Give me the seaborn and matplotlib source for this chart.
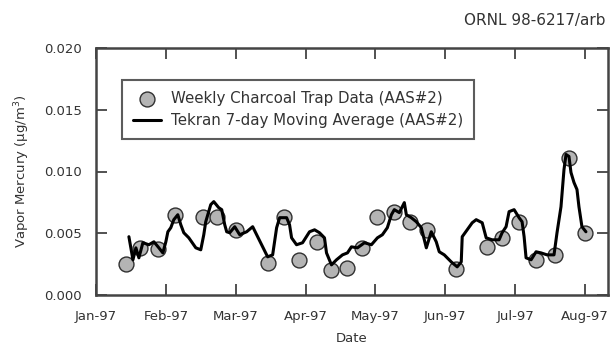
import numpy as np
import pandas as pd
import matplotlib
matplotlib.use("Agg")
import matplotlib.pyplot as plt
import seaborn as sns

# ---- data (x in months since 1 Jan 1997) ----
month_labels = ["Jan-97", "Feb-97", "Mar-97", "Apr-97", "May-97", "Jun-97", "Jul-97", "Aug-97"]

trap_month = [0.43, 0.63, 0.89, 1.13, 1.53, 1.73, 2.01, 2.46, 2.69, 2.91, 3.17, 3.37,
              3.59, 3.81, 4.03, 4.27, 4.49, 4.74, 5.16, 5.60, 5.81, 6.06, 6.30, 6.57,
              6.77, 7.00]
trap_value = [0.0025, 0.0038, 0.0037, 0.0065, 0.0063, 0.0063, 0.0053, 0.0026, 0.0063,
              0.0028, 0.0043, 0.0020, 0.0022, 0.0038, 0.0063, 0.0067, 0.0059, 0.0053,
              0.0021, 0.0039, 0.0046, 0.0059, 0.0028, 0.0032, 0.0111, 0.0050]

ma_month = [0.471, 0.529, 0.571, 0.614, 0.671, 0.757, 0.829, 0.900, 0.957, 1.000,
            1.029, 1.071, 1.114, 1.171, 1.214, 1.257, 1.329, 1.429, 1.500, 1.543,
            1.571, 1.643, 1.686, 1.757, 1.800, 1.843, 1.871, 1.914, 1.986, 2.057,
            2.157, 2.243, 2.314, 2.386, 2.457, 2.529, 2.586, 2.629, 2.729, 2.771,
            2.800, 2.871, 2.957, 3.057, 3.129, 3.200, 3.271, 3.300, 3.371, 3.443,
            3.529, 3.600, 3.657, 3.743, 3.843, 3.943, 4.029, 4.100, 4.171, 4.229,
            4.271, 4.343, 4.414, 4.443, 4.514, 4.586, 4.657, 4.729, 4.800, 4.871,
            4.914, 4.986, 5.086, 5.171, 5.229, 5.243, 5.314, 5.386, 5.443, 5.529,
            5.586, 5.671, 5.771, 5.814, 5.871, 5.914, 5.986, 6.057, 6.100, 6.129,
            6.157, 6.229, 6.300, 6.371, 6.457, 6.557, 6.600, 6.657, 6.700, 6.729,
            6.771, 6.800, 6.843, 6.886, 6.914, 6.957, 7.014]
ma_value = [0.00472, 0.00285, 0.00382, 0.00301, 0.00423, 0.00407, 0.00431, 0.00382, 0.00341, 0.00431,
            0.00512, 0.00545, 0.00610, 0.00650, 0.00569, 0.00504, 0.00463, 0.00382, 0.00366, 0.00488,
            0.00593, 0.00732, 0.00756, 0.00707, 0.00691, 0.00569, 0.00512, 0.00504, 0.00553, 0.00488,
            0.00512, 0.00553, 0.00472, 0.00390, 0.00309, 0.00325, 0.00545, 0.00626, 0.00626, 0.00569,
            0.00463, 0.00407, 0.00423, 0.00512, 0.00528, 0.00504, 0.00463, 0.00341, 0.00244, 0.00285,
            0.00325, 0.00341, 0.00390, 0.00382, 0.00423, 0.00407, 0.00463, 0.00488, 0.00545, 0.00650,
            0.00691, 0.00667, 0.00748, 0.00650, 0.00626, 0.00593, 0.00545, 0.00382, 0.00512, 0.00431,
            0.00350, 0.00325, 0.00268, 0.00228, 0.00268, 0.00472, 0.00528, 0.00585, 0.00610, 0.00585,
            0.00463, 0.00447, 0.00447, 0.00504, 0.00553, 0.00675, 0.00691, 0.00626, 0.00593, 0.00472,
            0.00301, 0.00285, 0.00350, 0.00341, 0.00325, 0.00325, 0.00504, 0.00715, 0.01016, 0.01138,
            0.01122, 0.00992, 0.00911, 0.00854, 0.00715, 0.00553, 0.00512]

y_ticks = [0.000, 0.005, 0.010, 0.015, 0.020]

trap_df = pd.DataFrame({"month": trap_month, "value": trap_value})
ma_df = pd.DataFrame({"month": ma_month, "value": ma_value})

sns.set_style("white")
plt.rcParams["font.family"] = ["DejaVu Sans"]

TXT = "#333333"
fig = plt.figure(figsize=(6.11, 3.45), dpi=100)
ax = fig.add_axes([96 / 611, 1 - 295 / 345, (608 - 96) / 611, (295 - 48) / 345])

sns.lineplot(data=ma_df, x="month", y="value", ax=ax, color="black", lw=2.2,
             sort=False, estimator=None, label="Tekran 7-day Moving Average (AAS#2)",
             zorder=3)
sns.scatterplot(data=trap_df, x="month", y="value", ax=ax, color="#b4b4b4",
                edgecolor="#303030", linewidth=1.0, s=115,
                label="Weekly Charcoal Trap Data (AAS#2)", zorder=2)

ax.set_xlim(0, 7.33)
ax.set_ylim(0, 0.020)
ax.set_xticks(range(len(month_labels)))
ax.set_xticklabels(month_labels)
ax.set_yticks(y_ticks)
ax.set_yticklabels([f"{v:.3f}" for v in y_ticks])

ax.tick_params(axis="both", which="both", direction="in", length=8, width=1.2,
               color="#333333", labelsize=9.5, labelcolor=TXT,
               top=True, right=True, bottom=True, left=True)
ax.tick_params(axis="y", pad=10)
ax.tick_params(axis="x", pad=11)
for sp in ax.spines.values():
    sp.set_color("#444444")
    sp.set_linewidth(1.8)

ax.set_xlabel("Date", fontsize=9.5, color=TXT, labelpad=6)
ax.set_ylabel("Vapor Mercury (\u00b5g/m$^3$)", fontsize=9.5, color=TXT, labelpad=9)

handles, labels = ax.get_legend_handles_labels()
order = [1, 0]
leg = ax.legend([handles[i] for i in order], [labels[i] for i in order],
                loc="upper left", bbox_to_anchor=((122 - 96) / 512, (295 - 80) / 247),
                fontsize=10.8, frameon=True, fancybox=False, edgecolor="#333333",
                borderpad=0.7, handlelength=1.9, handletextpad=0.65,
                labelspacing=0.5, borderaxespad=0)
leg.get_frame().set_linewidth(1.5)
for t in leg.get_texts():
    t.set_color(TXT)

fig.text(606 / 611, 1 - 21 / 345, "ORNL 98-6217/arb", ha="right", va="center",
         fontsize=11, color=TXT)

fig.savefig("out.png", dpi=100)
